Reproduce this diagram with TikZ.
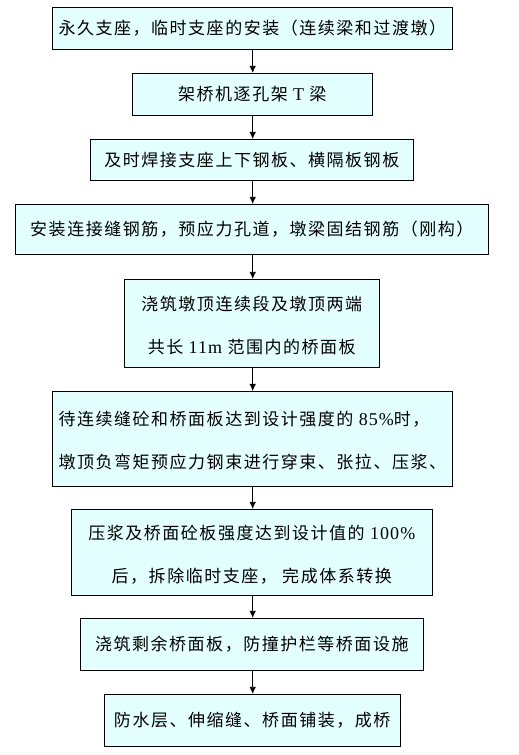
\documentclass[tikz,border=0pt]{standalone}
\usepackage{fontspec}
\setmainfont{Liberation Serif}
\newfontfamily\cjk{Noto Sans CJK SC}[LetterSpace=9]
\newfontfamily\latfont{Liberation Serif}[LetterSpace=6]
\newcommand\lat[1]{{\latfont\fontsize{18}{43}\selectfont #1}}
\usetikzlibrary{arrows.meta}
\definecolor{boxfill}{RGB}{228,255,255}
\tikzset{
  stepbox/.style={draw=black, line width=0.8pt, fill=boxfill, inner sep=0pt,
    font=\cjk\fontsize{17}{43}\selectfont, align=center},
  flow/.style={-{Latex[length=7pt,width=6.5pt]}, line width=0.8pt}
}
\begin{document}
\begin{tikzpicture}[x=1pt,y=-1pt]
\useasboundingbox (0,0) rectangle (519,755);
\node[stepbox, minimum width=400pt, minimum height=42pt] (b1) at (252.3,28.3)
  {\raisebox{-4.5pt}{永久支座，临时支座的安装（连续梁和过渡墩）}};
\node[stepbox, minimum width=240pt, minimum height=42pt] (b2) at (252.3,94.3)
  {\raisebox{-4pt}{架桥机逐孔架 \lat{T} 梁}};
\node[stepbox, minimum width=323pt, minimum height=40.7pt] (b3) at (251.8,159.7)
  {\raisebox{-5pt}{及时焊接支座上下钢板、横隔板钢板}};
\node[stepbox, minimum width=473pt, minimum height=50pt] (b4) at (251.8,229.3)
  {\raisebox{-1pt}{安装连接缝钢筋，预应力孔道，墩梁固结钢筋（刚构）}};
\node[stepbox, minimum width=255pt, minimum height=88pt] (b5) at (251.8,323.3)
  {\raisebox{-3pt}{\begin{tabular}{@{}c@{}}浇筑墩顶连续段及墩顶两端\\共长 \lat{11m} 范围内的桥面板\end{tabular}}};
\node[stepbox, minimum width=400pt, minimum height=94.7pt] (b6) at (252.3,438.7)
  {\raisebox{-2pt}{\begin{tabular}{@{}l@{}}待连续缝砼和桥面板达到设计强度的 \lat{85\%}时，\\墩顶负弯矩预应力钢束进行穿束、张拉、压浆、\end{tabular}}};
\node[stepbox, minimum width=361pt, minimum height=84pt] (b7) at (251.8,552.3)
  {\raisebox{-6pt}{\begin{tabular}{@{}c@{}}压浆及桥面砼板强度达到设计值的 \lat{100\%}\\后，拆除临时支座， 完成体系转换\end{tabular}}};
\node[stepbox, minimum width=343pt, minimum height=52pt] (b8) at (251.8,644.3)
  {浇筑剩余桥面板，防撞护栏等桥面设施};
\node[stepbox, minimum width=295.7pt, minimum height=52pt] (b9) at (252.2,720.3)
  {防水层、伸缩缝、桥面铺装，成桥};
\foreach \a/\b in {b1/b2,b2/b3,b3/b4,b4/b5,b5/b6,b6/b7,b7/b8,b8/b9}
  \draw[flow] (\a.south -| 252.7,0) -- (\b.north -| 252.7,0);
\end{tikzpicture}
\end{document}
